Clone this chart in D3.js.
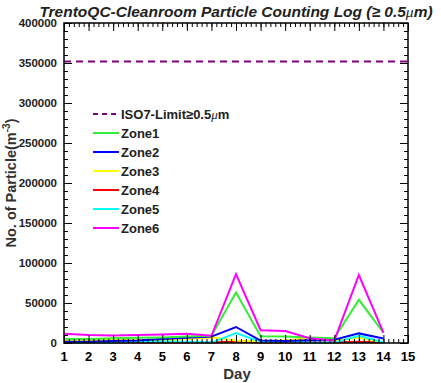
<!DOCTYPE html>
<html>
<head>
<meta charset="utf-8">
<script src="https://cdn.jsdelivr.net/npm/d3@7"></script>
<style>
  body { margin: 0; background: #fff; }
  text { font-family: "Liberation Sans", Arial, sans-serif; font-weight: bold; }
</style>
</head>
<body>
<script>
// data
var days = [1, 2, 3, 4, 5, 6, 7, 8, 9, 10, 11, 12, 13, 14];
var isoLimit = 352000;
var zoneNames = ["Zone1", "Zone2", "Zone3", "Zone4", "Zone5", "Zone6"];
var zoneColors = ["#33ee33", "#0000ff", "#ffff00", "#ff0000", "#00ffff", "#ff00ff"];
var zone1 = [5000, 5000, 6000, 6500, 7000, 8000, 9000, 63000, 8500, 8000, 7000, 6000, 54000, 13000];
var zone2 = [1500, 1500, 2500, 3000, 5000, 6500, 8000, 20000, 3000, 2500, 3500, 4000, 12000, 5500];
var zone3 = [3000, 3000, 4000, 3500, 3000, 5000, 7000, 3000, 2000, 3500, 6000, 3000, 6500, 1000];
var zone4 = [500, 500, 500, 500, 500, 500, 500, 2000, 500, 500, 500, 500, 1500, 500];
var zone5 = [500, 500, 500, 1500, 2000, 1500, 500, 12500, 1500, 1500, 500, 500, 9000, 1000];
var zone6 = [11500, 10000, 9500, 10000, 10500, 11500, 9000, 86000, 16000, 15000, 6000, 3000, 85000, 13000];
var zones = [zone1, zone2, zone3, zone4, zone5, zone6];
var yTicks = [0, 50000, 100000, 150000, 200000, 250000, 300000, 350000, 400000];

var W = 441, H = 383;
var frame = {left: 64, right: 408, top: 23, bottom: 343};

var svg = d3.select("body").append("svg")
    .attr("width", W)
    .attr("height", H);

var x = d3.scaleLinear().domain([1, 15]).range([frame.left, frame.right]);
var y = d3.scaleLinear().domain([0, 400000]).range([frame.bottom, frame.top]);

// data lines
var line = d3.line()
    .x(function (d, i) { return x(days[i]); })
    .y(function (d) { return y(d); });

var order = [3, 2, 4, 1, 0, 5];
order.forEach(function (k) {
    svg.append("path")
        .attr("d", line(zones[k]))
        .attr("fill", "none")
        .attr("stroke", zoneColors[k])
        .attr("stroke-width", 2);
});

// ISO7 limit
svg.append("line")
    .attr("x1", x(1)).attr("x2", x(15))
    .attr("y1", y(isoLimit)).attr("y2", y(isoLimit))
    .attr("stroke", "#800080")
    .attr("stroke-width", 2)
    .attr("stroke-dasharray", "7,5");

// axes, ROOT style with inward ticks on all four sides
var xMinor = d3.range(1, 15.001, 0.2);
var yMinor = d3.range(0, 400001, 10000);

svg.append("g").attr("transform", "translate(0," + frame.bottom + ")")
    .call(d3.axisTop(x).tickValues(xMinor).tickSize(4).tickFormat(""));
svg.append("g").attr("transform", "translate(0," + frame.bottom + ")")
    .call(d3.axisTop(x).tickValues(days.concat([15])).tickSize(8).tickFormat(""));
svg.append("g").attr("transform", "translate(0," + frame.top + ")")
    .call(d3.axisBottom(x).tickValues(xMinor).tickSize(4).tickFormat(""));
svg.append("g").attr("transform", "translate(0," + frame.top + ")")
    .call(d3.axisBottom(x).tickValues(days.concat([15])).tickSize(8).tickFormat(""));
svg.append("g").attr("transform", "translate(" + frame.left + ",0)")
    .call(d3.axisRight(y).tickValues(yMinor).tickSize(4).tickFormat(""));
svg.append("g").attr("transform", "translate(" + frame.left + ",0)")
    .call(d3.axisRight(y).tickValues(yTicks).tickSize(8).tickFormat(""));
svg.append("g").attr("transform", "translate(" + frame.right + ",0)")
    .call(d3.axisLeft(y).tickValues(yMinor).tickSize(4).tickFormat(""));
svg.append("g").attr("transform", "translate(" + frame.right + ",0)")
    .call(d3.axisLeft(y).tickValues(yTicks).tickSize(8).tickFormat(""));
svg.selectAll(".domain").remove();
svg.selectAll(".tick line").attr("stroke", "#000").attr("stroke-width", 1);

svg.append("rect")
    .attr("x", frame.left).attr("y", frame.top)
    .attr("width", frame.right - frame.left)
    .attr("height", frame.bottom - frame.top)
    .attr("fill", "none")
    .attr("stroke", "#000")
    .attr("stroke-width", 1.5);

// tick labels
svg.append("g").selectAll("text")
    .data(days.concat([15]))
    .enter().append("text")
    .attr("x", function (d) { return x(d); })
    .attr("y", 361)
    .attr("text-anchor", "middle")
    .attr("font-size", "13px")
    .text(function (d) { return d; });

svg.append("g").selectAll("text")
    .data(yTicks)
    .enter().append("text")
    .attr("x", 57)
    .attr("y", function (d) { return y(d) + 4; })
    .attr("text-anchor", "end")
    .attr("font-size", "11.5px")
    .attr("fill", "#222")
    .text(function (d) { return d; });

// axis titles
svg.append("text")
    .attr("x", 237).attr("y", 379)
    .attr("text-anchor", "middle")
    .attr("font-size", "15px")
    .attr("fill", "#333")
    .text("Day");

var ylab = svg.append("text")
    .attr("transform", "translate(16,183) rotate(-90)")
    .attr("text-anchor", "middle")
    .attr("font-size", "14.5px")
    .attr("fill", "#333");
ylab.append("tspan").text("No. of Particle(m");
ylab.append("tspan").attr("dy", -6).attr("font-size", "10px").text("-3");
ylab.append("tspan").attr("dy", 6).text(")");

// title
var title = svg.append("text")
    .attr("x", 236).attr("y", 17)
    .attr("text-anchor", "middle")
    .attr("font-size", "15.5px")
    .attr("font-style", "italic")
    .attr("fill", "#222");
title.append("tspan").text("TrentoQC-Cleanroom Particle Counting Log (\u2265 0.5");
title.append("tspan").attr("font-family", "Liberation Serif, serif").attr("font-weight", "normal").text("\u03bc");
title.append("tspan").text("m)");

// legend
var legendNames = ["ISO7-Limit"].concat(zoneNames);
var legend = svg.append("g").selectAll("g")
    .data(legendNames)
    .enter().append("g")
    .attr("transform", function (d, i) { return "translate(93," + (114 + 19 * i) + ")"; });

legend.append("line")
    .attr("x1", 0).attr("x2", 26)
    .attr("stroke", function (d, i) { return i === 0 ? "#800080" : zoneColors[i - 1]; })
    .attr("stroke-width", 2)
    .attr("stroke-dasharray", function (d, i) { return i === 0 ? "5,4" : null; });

legend.append("text")
    .attr("x", 28).attr("y", 5)
    .attr("font-size", "13px")
    .attr("fill", "#222")
    .each(function (d, i) {
        var t = d3.select(this);
        if (i === 0) {
            t.append("tspan").text("ISO7-Limit\u22650.5");
            t.append("tspan").attr("font-family", "Liberation Serif, serif").attr("font-weight", "normal").attr("font-style", "italic").text("\u03bc");
            t.append("tspan").text("m");
        } else {
            t.text(d);
        }
    });
</script>
</body>
</html>
